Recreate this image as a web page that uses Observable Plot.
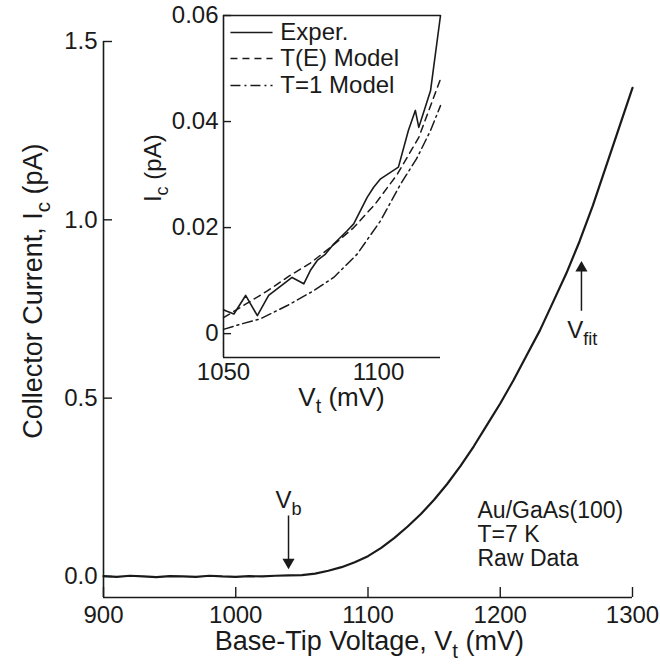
<!DOCTYPE html>
<html><head><meta charset="utf-8">
<script src="https://cdn.jsdelivr.net/npm/d3@7"></script>
<script src="https://cdn.jsdelivr.net/npm/@observablehq/plot@0.6"></script>
<style>
body{margin:0;background:#fff;}
#wrap{position:relative;width:660px;height:670px;overflow:hidden;}
#wrap svg{position:absolute;background:transparent !important;}
</style></head><body><div id="wrap"></div>
<script>
// ---------- main panel data ----------
const mainV = [900,910,920,930,940,950,960,970,980,990,1000,1010,1020,1030,1040,
  1050,1060,1070,1080,1090,1100,1110,1120,1130,1140,1150,1160,1170,1180,1190,
  1200,1210,1220,1230,1240,1250,1260,1270,1280,1290,1300];
const mainI = [0.001,-0.001,0.002,0.000,-0.002,0.001,0.000,-0.001,0.002,0.000,-0.001,0.001,0.000,0.002,0.003,
  0.004,0.008,0.016,0.026,0.040,0.057,0.080,0.108,0.140,0.175,0.215,0.260,0.310,0.365,0.425,
  0.485,0.550,0.620,0.690,0.770,0.850,0.940,1.040,1.150,1.260,1.370];
const mainXTicks = [900,1000,1100,1200,1300];
const mainYTicks = [0,0.5,1.0,1.5];
const infoLines = ["Au/GaAs(100)","T=7 K","Raw Data"];
const infoY = [0.185,0.117,0.05];

// ---------- inset data ----------
const expV = [1050,1050.5,1052.4,1055.1,1057.8,1060.4,1065.8,1068.5,1070.0,1071.6,1073.5,1075.4,1078.5,1080.0,1083.1,1084.6,1086.2,1090.3,1092.6,1094.2,1095.0,1097.0,1097.7,1100];
const expI = [0.0045,0.0043,0.0037,0.0072,0.0034,0.0072,0.0106,0.0094,0.0119,0.0138,0.0150,0.0169,0.0194,0.0207,0.0257,0.0276,0.0292,0.0314,0.0383,0.0421,0.0389,0.0440,0.0458,0.0600];
const teV = [1050,1055,1060,1065,1070,1075,1080,1085,1090,1095,1100];
const teI = [0.0030,0.0055,0.0080,0.0108,0.0133,0.0165,0.0200,0.0245,0.0300,0.0370,0.0480];
const t1V = [1050,1054,1058.5,1064.7,1070.8,1075.4,1080.8,1086.2,1090.8,1094.5,1097.7,1100];
const t1I = [0.0008,0.0018,0.0028,0.0053,0.0081,0.0106,0.0150,0.0213,0.0282,0.0330,0.0383,0.0430];
const insetXTicks = [1050,1100];
const insetYTicks = [0,0.02,0.04,0.06];
const insetYTickLabels = ["0","0.02","0.04","0.06"];
const legendLabels = ["Exper.","T(E) Model","T=1 Model"];
const legendY = [0.0568,0.0519,0.0468];
const legendDash = [null,"7,5","10,4,2,4"];

const FONT = "'Liberation Sans', Arial, Helvetica, sans-serif";
const INK = "#1a1a1a";

function subscriptify(svg){
  d3.select(svg).selectAll("text").each(function(){
    const t = this.textContent;
    if (!t.includes("_{")) return;
    const fs = parseFloat(getComputedStyle(this).fontSize) || 20;
    const parts = t.split(/_\{([^}]*)\}/);
    const sel = d3.select(this);
    sel.text(null);
    let back = 0;
    parts.forEach((p,i)=>{
      if (p === "") return;
      if (i % 2 === 1) {
        sel.append("tspan").attr("dy", (0.3*fs).toFixed(1)).attr("font-size", (0.76*fs).toFixed(1)).text(p);
        back = -0.3*fs;
      } else {
        const ts = sel.append("tspan").text(p);
        if (back) { ts.attr("dy", back.toFixed(1)); back = 0; }
      }
    });
  });
}

const wrap = document.getElementById("wrap");
const mainData = mainV.map((v,i)=>({v, i: mainI[i]}));
const yMin = -0.059;

const main = Plot.plot({
  width: 660, height: 670,
  marginLeft: 103, marginRight: 28, marginTop: 41, marginBottom: 73,
  style: {fontFamily: FONT, fontSize: "24px", color: INK, background: "transparent"},
  x: {domain: [900,1300]},
  y: {domain: [yMin,1.5]},
  marks: [
    Plot.ruleY([yMin], {stroke: INK, strokeWidth: 1.6}),
    Plot.ruleX([900], {y1: yMin, y2: 1.5, stroke: INK, strokeWidth: 1.6}),
    Plot.axisX({ticks: mainXTicks, tickSize: -10, tickPadding: 18, tickFormat: d=>String(d), stroke: INK, strokeWidth: 1.4, label: null, fontSize: 24}),
    Plot.axisY({ticks: mainYTicks, tickSize: -9, tickPadding: 15, tickFormat: d=>d.toFixed(1), stroke: INK, strokeWidth: 1.4, label: null, fontSize: 24}),
    Plot.line(mainData, {x: "v", y: "i", stroke: INK, strokeWidth: 2.2}),
    // V_b arrow
    Plot.link([{x:1039.9, y1:0.171, y2:0.04}], {x1:"x", x2:"x", y1:"y1", y2:"y2", stroke: INK, strokeWidth: 1.5}),
    Plot.dot([{x:1039.9, y:0.04}], {x:"x", y:"y", symbol:"triangle", rotate:180, r:4.5, fill: INK, stroke: "none"}),
    Plot.text(["V_{b}"], {x: 1040, y: 0.214, text: d=>d, fontSize: 24, fill: INK}),
    // V_fit arrow
    Plot.link([{x:1261.4, y1:0.745, y2:0.865}], {x1:"x", x2:"x", y1:"y1", y2:"y2", stroke: INK, strokeWidth: 1.5}),
    Plot.dot([{x:1261.4, y:0.865}], {x:"x", y:"y", symbol:"triangle", r:4.5, fill: INK, stroke: "none"}),
    Plot.text(["V_{fit}"], {x: 1262, y: 0.69, text: d=>d, fontSize: 24, fill: INK}),
    // info text
    Plot.text(infoLines, {x: 1182.8, y: (d,i)=>infoY[i], text: d=>d, textAnchor: "start", fontSize: 23, fill: INK}),
    // axis titles
    Plot.text(["Base-Tip Voltage, V_{t} (mV)"], {x: 1101, frameAnchor: "bottom", dy: 52, text: d=>d, textAnchor: "middle", fontSize: 27, fill: INK}),
    Plot.text(["Collector Current, I_{c} (pA)"], {y: 0.80, frameAnchor: "left", dx: -70, rotate: -90, text: d=>d, textAnchor: "middle", fontSize: 27, fill: INK})
  ]
});
main.style.left = "0px"; main.style.top = "0px";
wrap.appendChild(main);
subscriptify(main);

// ---------- inset ----------
const iyMin = -0.0045;
const series = [
  {name: legendLabels[0], data: expV.map((v,i)=>({v, i: expI[i]})), dash: legendDash[0], w: 1.6},
  {name: legendLabels[1], data: teV.map((v,i)=>({v, i: teI[i]})), dash: legendDash[1], w: 1.5},
  {name: legendLabels[2], data: t1V.map((v,i)=>({v, i: t1I[i]})), dash: legendDash[2], w: 1.5}
];
const insetMarks = [
  Plot.ruleY([iyMin], {stroke: INK, strokeWidth: 1.6}),
  Plot.ruleY([0.06], {stroke: INK, strokeWidth: 1.6}),
  Plot.ruleX([1050], {y1: iyMin, y2: 0.06, stroke: INK, strokeWidth: 1.6}),
  Plot.axisX({ticks: [insetXTicks[0]], tickSize: 0, tickPadding: 5, tickFormat: d=>String(d), label: null, fontSize: 24}),
  Plot.axisX({ticks: [insetXTicks[1]], tickSize: 0, tickPadding: 5, tickFormat: d=>String(d), label: null, fontSize: 24, dx: -62}),
  Plot.axisY({ticks: insetYTicks, tickSize: -8, tickPadding: 13, tickFormat: d=>insetYTickLabels[insetYTicks.indexOf(d)], stroke: INK, strokeWidth: 1.4, label: null, fontSize: 24}),
  Plot.text(["V_{t} (mV)"], {x: 1077.2, frameAnchor: "bottom", dy: 48, text: d=>d, textAnchor: "middle", fontSize: 26, fill: INK}),
  Plot.text(["I_{c} (pA)"], {y: 0.0312, frameAnchor: "left", dx: -70, rotate: -90, text: d=>d, textAnchor: "middle", fontSize: 24, fill: INK})
];
series.forEach((s,k)=>{
  insetMarks.push(Plot.line(s.data, {x: "v", y: "i", stroke: INK, strokeWidth: s.w, strokeDasharray: s.dash}));
  insetMarks.push(Plot.link([{y: legendY[k]}], {x1: 1051.6, x2: 1061.3, y1: "y", y2: "y", stroke: INK, strokeWidth: s.w, strokeDasharray: s.dash}));
  insetMarks.push(Plot.text([s.name], {x: 1063.1, y: legendY[k], text: d=>d, textAnchor: "start", fontSize: 24, fill: INK}));
});
const inset = Plot.plot({
  width: 310, height: 430,
  marginLeft: 83, marginRight: 10, marginTop: 15, marginBottom: 73,
  style: {fontFamily: FONT, fontSize: "24px", color: INK, background: "transparent"},
  x: {domain: [1050,1100]},
  y: {domain: [iyMin,0.06]},
  marks: insetMarks
});
inset.style.left = "140px"; inset.style.top = "0px";
wrap.appendChild(inset);
subscriptify(inset);
</script></body></html>
